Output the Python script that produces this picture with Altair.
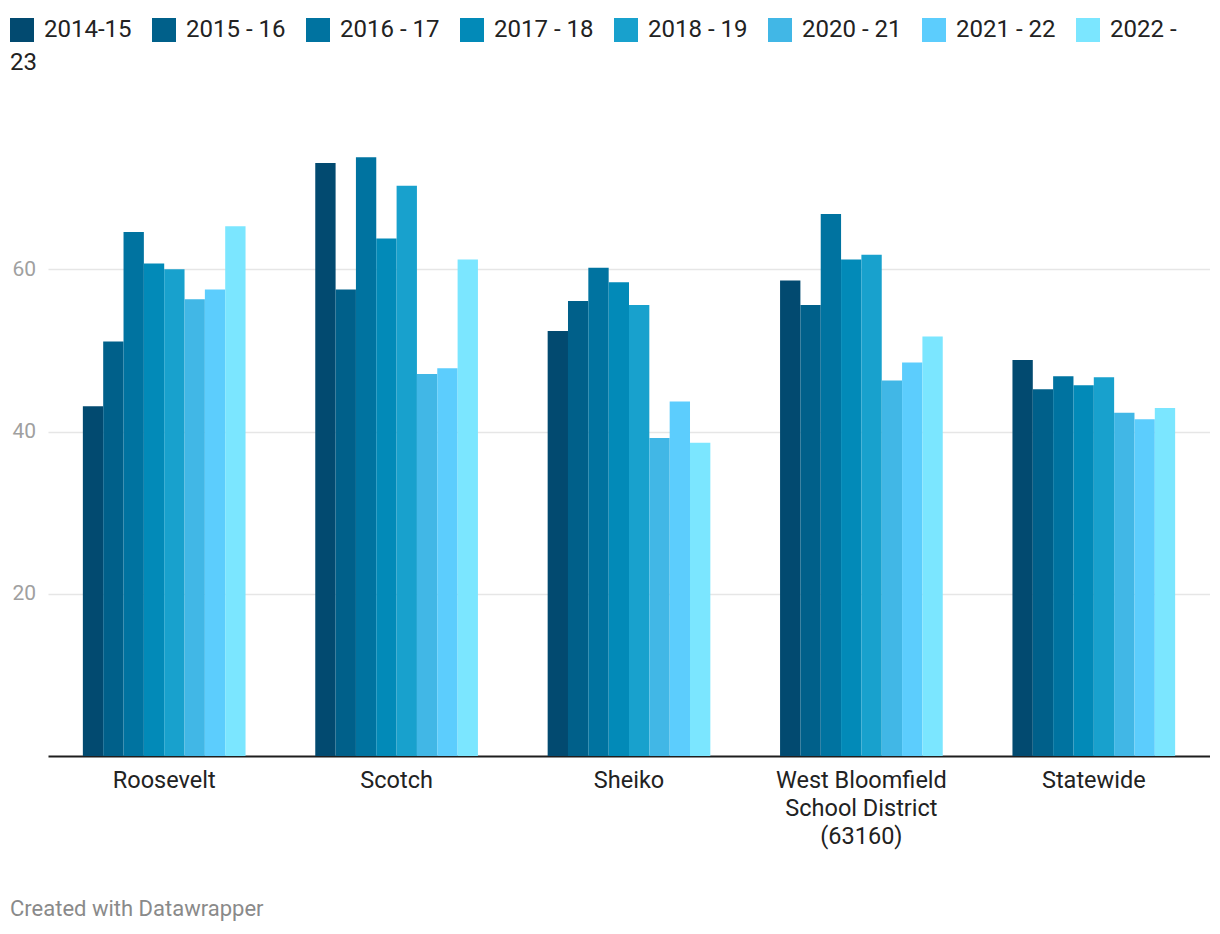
import altair as alt
import pandas as pd

categories = ["Roosevelt", "Scotch", "Sheiko",
              "West Bloomfield School District (63160)", "Statewide"]
years = ["2014-15", "2015 - 16", "2016 - 17", "2017 - 18", "2018 - 19",
         "2020 - 21", "2021 - 22", "2022 - 23"]
colors = ["#024a70", "#00608a", "#0073a0", "#028ab8", "#18a1cd",
          "#41b7e6", "#5ccdfd", "#7be6ff"]

roosevelt = [43.1, 51.1, 64.6, 60.7, 60.0, 56.3, 57.5, 65.3]
scotch = [73.1, 57.5, 73.8, 63.8, 70.3, 47.1, 47.8, 61.2]
sheiko = [52.4, 56.1, 60.2, 58.4, 55.6, 39.2, 43.7, 38.6]
west_bloomfield = [58.6, 55.6, 66.8, 61.2, 61.8, 46.3, 48.5, 51.7]
statewide = [48.8, 45.2, 46.8, 45.7, 46.7, 42.3, 41.5, 42.9]

series = [roosevelt, scotch, sheiko, west_bloomfield, statewide]
y_ticks = [20, 40, 60]
footer = "Created with Datawrapper"

rows = []
for cat, vals in zip(categories, series):
    for yr, v in zip(years, vals):
        rows.append({"school": cat, "year": yr, "value": v})
df = pd.DataFrame(rows)

FONT = "Roboto"
last = years[-1]
head, tail = last.split(" - ")

bars = alt.Chart(df).mark_bar().encode(
    x=alt.X("school:N", sort=categories, title=None,
            scale=alt.Scale(paddingInner=0.3, paddingOuter=0.15),
            axis=alt.Axis(labelAngle=0, domain=True, domainColor="#1e1e1e",
                          domainWidth=2, ticks=False, grid=False,
                          labelFontSize=23.5, labelColor="#222",
                          labelPadding=12, labelLineHeight=28,
                          labelLimit=400,
                          labelExpr="datum.value == 'West Bloomfield School District (63160)' ? ['West Bloomfield','School District','(63160)'] : datum.value")),
    xOffset=alt.XOffset("year:N", sort=years,
                        scale=alt.Scale(paddingInner=0, paddingOuter=0)),
    y=alt.Y("value:Q", title=None,
            scale=alt.Scale(domain=[0, 80], nice=False),
            axis=alt.Axis(values=y_ticks, domain=False, ticks=False,
                          grid=True, gridColor="#e6e6e6", gridWidth=1.5,
                          labelAlign="left", labelPadding=36,
                          labelFontSize=21, labelColor="#a0a0a0",
                          labelBaseline="middle")),
    color=alt.Color("year:N", sort=years,
                    scale=alt.Scale(domain=years, range=colors),
                    legend=alt.Legend(orient="none", legendX=-38, legendY=-89,
                                      direction="horizontal", title=None,
                                      symbolType="square", symbolSize=576,
                                      symbolStrokeWidth=0, labelFontSize=24,
                                      labelColor="#222", labelOffset=10,
                                      columnPadding=20, labelLimit=300,
                                      labelExpr=f"datum.label == '{last}' ? '{head} -' : datum.label")),
)

wrap = alt.Chart(pd.DataFrame({"t": [tail]})).mark_text(
    align="left", baseline="middle", fontSize=24, font=FONT, color="#222"
).encode(x=alt.value(-38), y=alt.value(-44), text="t:N")

foot = alt.Chart(pd.DataFrame({"t": [footer]})).mark_text(
    align="left", baseline="alphabetic", fontSize=22, font=FONT, color="#8a8a8a"
).encode(x=alt.value(-38), y=alt.value(809), text="t:N")

chart = alt.layer(bars, wrap, foot).properties(
    width=1162, height=649,
    autosize=alt.AutoSizeParams(type="none"),
    padding={"left": 40, "top": 99, "right": 0, "bottom": 170},
).configure(font=FONT).configure_view(stroke=None)

chart.save("out.html", embed_options={"renderer": "svg", "actions": False})
